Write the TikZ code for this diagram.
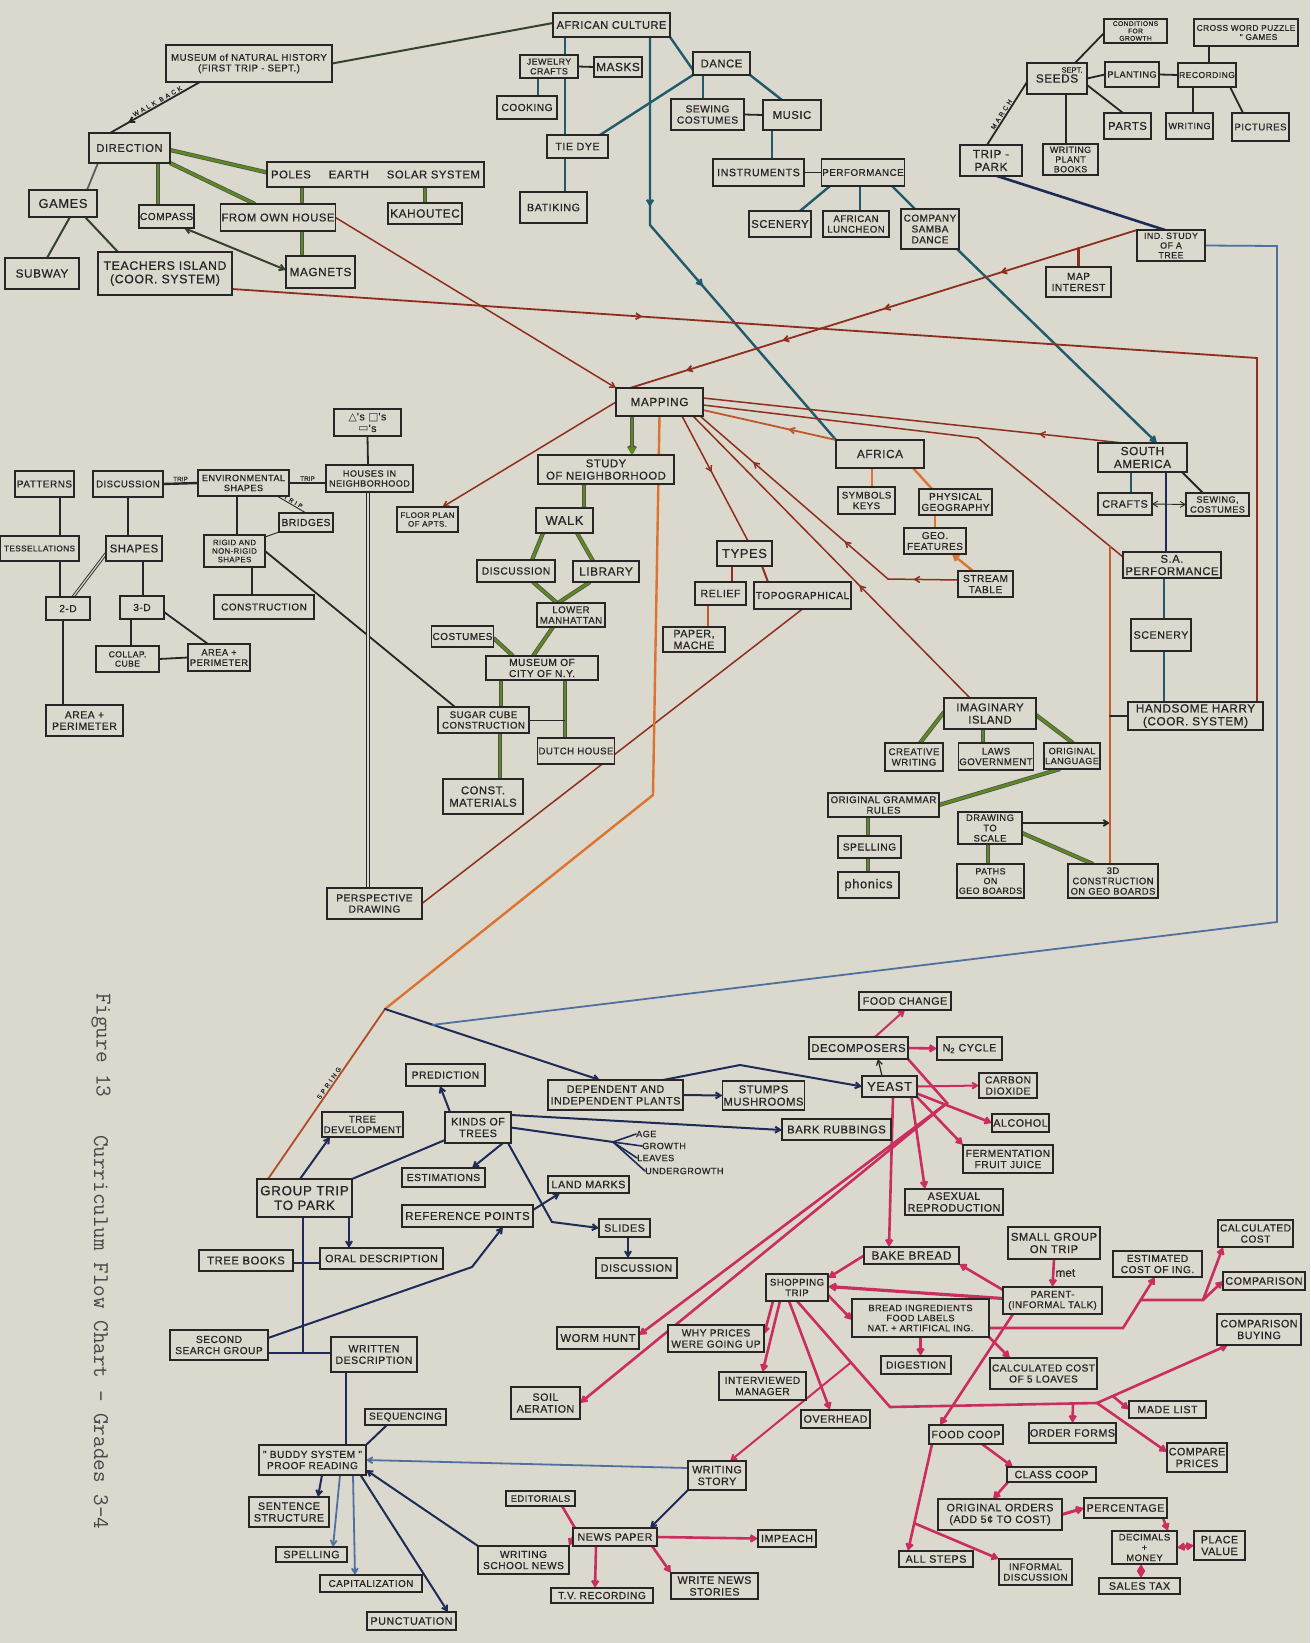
\documentclass[tikz,border=0pt]{standalone}
\usepackage{fontspec}
\usetikzlibrary{calc,arrows.meta,decorations.markings}
\newfontfamily\hand[LetterSpace=5,FakeBold=0.7]{Liberation Sans}
\newfontfamily\handn[FakeBold=0.5]{Liberation Sans}
\newfontfamily\handw[LetterSpace=40,FakeBold=0.5]{Liberation Sans}
\newfontfamily\symf{DejaVu Sans}
\newcommand\fs[1]{\fontsize{\fpeval{#1*1.07}}{\fpeval{#1*1.17}}\selectfont}
\definecolor{paper}{HTML}{DBD8CD}
\definecolor{ink}{HTML}{262626}
\definecolor{grn}{HTML}{5C8A20}
\definecolor{tlc}{HTML}{215A6C}
\definecolor{nvc}{HTML}{1E2B58}
\definecolor{rdc}{HTML}{8E2E1E}
\definecolor{ogc}{HTML}{DB7430}
\definecolor{mgc}{HTML}{C92E5E}
\definecolor{blc}{HTML}{50709F}
\definecolor{dgc}{HTML}{33442C}
\pgfdeclarelayer{back}
\pgfdeclarelayer{lines}
\pgfsetlayers{back,lines,main}
\tikzset{
 box/.style={draw=ink,line width=1.4pt,fill=paper,inner sep=1pt,outer sep=0pt,align=center,text=ink},
 thickbox/.style={line width=2.4pt},
 lbl/.style={text=ink,inner sep=1pt,font=\handn\fs{6.5}},
 dk/.style={color=ink,line width=1.8pt,line cap=round},
 dkg/.style={color=dgc,line width=2pt,line cap=round},
 gr/.style={color=grn,line width=2.6pt,preaction={draw=ink!80,line width=4.2pt}},
 tl/.style={color=tlc,line width=2.4pt,line cap=round},
 nv/.style={color=nvc,line width=2pt,line cap=round},
 rd/.style={color=rdc,line width=1.5pt,line cap=round},
 og/.style={color=ogc,line width=2.4pt,line cap=round},
 mg/.style={color=mgc,line width=2.6pt,line cap=round},
 bl/.style={color=blc,line width=1.8pt,line cap=round},
 thn/.style={color=ink,line width=0.9pt},
 amid/.style={postaction={decorate,decoration={markings,mark=at position #1 with {\arrow{Straight Barb[length=5pt,width=6pt]}}}}},
 ramid/.style={postaction={decorate,decoration={markings,mark=at position #1 with {\arrowreversed{Straight Barb[length=5pt,width=6pt]}}}}},
}
\newcommand{\BX}[8][]{\node[box,#1,minimum width={#5-#3},minimum height={#6-#4},font=\hand\fs{#7}] (#2) at ({(#3+#5)/2},{(#4+#6)/2}) {#8};}
\begin{document}
\begin{tikzpicture}[x=1pt,y=-1pt,>={Straight Barb[length=5pt,width=6pt]}]
\useasboundingbox (0,0) rectangle (1310,1643);
\begin{pgfonlayer}{back}
\fill[paper] (0,0) rectangle (1310,1643);
\end{pgfonlayer}

% ---------- caption
\node[rotate=-90,anchor=west,inner sep=0pt,text=ink!85,font=\ttfamily\fontsize{22.5}{24}\selectfont] (figcap) at (101,993) {Figure 13};
\node[rotate=-90,anchor=west,inner sep=0pt,text=ink!85,font=\ttfamily\fontsize{22.5}{24}\selectfont] (titcap) at (101,1135) {Curriculum Flow Chart - Grades 3-4};

% ---------- top left
\BX{museum}{166}{45}{332}{82}{9}{MUSEUM of NATURAL HISTORY\\(FIRST TRIP - SEPT.)}
\BX{direction}{89}{133}{170}{163}{10.5}{DIRECTION}
\BX{games}{29}{190}{97}{217}{12}{GAMES}
\BX{compass}{139}{205}{194}{228}{9.5}{COMPASS}
\BX{ownhouse}{222}{204}{334}{231}{10.5}{FROM OWN HOUSE}
\BX{poles}{267}{162}{484}{187}{10.5}{POLES\hspace{1.6em}EARTH\hspace{1.6em}SOLAR SYSTEM}
\BX{kahoutec}{388}{203}{462}{224}{11}{KAHOUTEC}
\BX{subway}{5}{258}{79}{289}{11}{SUBWAY}
\BX{teachers}{98}{252}{232}{295}{11.5}{TEACHERS ISLAND\\(COOR. SYSTEM)}
\BX{magnets}{286}{256}{355}{288}{11}{MAGNETS}

% ---------- african culture
\BX{afcult}{553}{13}{670}{37}{10.3}{AFRICAN CULTURE}
\BX{jewelry}{520}{55}{578}{78}{8.3}{JEWELRY\\CRAFTS}
\BX{masks}{594}{57}{642}{77}{11}{MASKS}
\BX{cooking}{497}{96}{557}{119}{9.5}{COOKING}
\BX{tiedye}{547}{135}{608}{158}{10}{TIE DYE}
\BX{batiking}{520}{192}{587}{223}{10}{BATIKING}
\BX{dance}{693}{52}{750}{75}{10.5}{DANCE}
\BX{sewing}{671}{99}{744}{130}{9.5}{SEWING\\COSTUMES}
\BX{music}{763}{100}{821}{130}{10.5}{MUSIC}
\BX{instruments}{713}{159}{804}{186}{10}{INSTRUMENTS}
\BX{performance}{823}{159}{903}{186}{9.2}{PERFORMANCE}
\BX{scenery}{749}{211}{811}{237}{10.5}{SCENERY}
\BX{luncheon}{823}{211}{889}{237}{9}{AFRICAN\\LUNCHEON}
\BX{samba}{901}{209}{959}{249}{9.3}{COMPANY\\SAMBA\\DANCE}

% ---------- top right
\BX{conditions}{1104}{19}{1167}{43}{6.3}{CONDITIONS\\FOR\\GROWTH}
\BX{crossword}{1194}{19}{1298}{46}{7.8}{CROSS WORD PUZZLE\\\hspace*{3em}" GAMES}
\BX{seeds}{1027}{63}{1087}{94}{11}{\raisebox{-4pt}{SEEDS}}
\node[lbl,font=\handn\fs{7}] (septlbl) at (1072,70) {SEPT.};
\BX{planting}{1105}{62}{1159}{87}{8.6}{PLANTING}
\BX{recording}{1178}{63}{1236}{87}{8}{RECORDING}
\BX{parts}{1104}{113}{1151}{139}{10.5}{PARTS}
\BX{writing}{1166}{113}{1213}{139}{8.5}{WRITING}
\BX{pictures}{1232}{113}{1289}{141}{9}{PICTURES}
\BX{trippark}{960}{145}{1022}{176}{11}{TRIP -\\PARK}
\BX{plantbooks}{1043}{144}{1098}{175}{8.3}{WRITING\\PLANT\\BOOKS}
\BX{indstudy}{1137}{230}{1205}{261}{8.3}{IND. STUDY\\OF A\\TREE}
\BX{mapint}{1046}{267}{1111}{297}{9.5}{MAP\\INTEREST}

% ---------- left middle
\BX{shapesbox}{334}{409}{401}{436}{10}{{\symf △}'s {\symf □}'s\\{\symf ▭}'s}
\BX{patterns}{15}{471}{74}{497}{9.3}{PATTERNS}
\BX{discleft}{93}{471}{163}{497}{8.9}{DISCUSSION}
\BX{envshapes}{198}{470}{289}{496}{8.5}{ENVIRONMENTAL\\SHAPES}
\BX{houses}{326}{465}{413}{492}{8.5}{HOUSES IN\\NEIGHBORHOOD}
\BX{tess}{0}{536}{79}{561}{7.7}{TESSELLATIONS}
\BX{shapes}{106}{536}{162}{561}{10.5}{SHAPES}
\BX{rigid}{204}{535}{265}{567}{7.3}{RIGID AND\\NON-RIGID\\SHAPES}
\BX{bridges}{279}{513}{333}{532}{9.5}{BRIDGES}
\BX{twod}{46}{597}{90}{620}{9.5}{2-D}
\BX{threed}{120}{596}{164}{619}{9.5}{3-D}
\BX{construction}{214}{595}{314}{619}{9.3}{CONSTRUCTION}
\BX{collap}{96}{646}{159}{672}{8}{COLLAP.\\CUBE}
\BX{areaR}{188}{644}{250}{671}{8.7}{AREA +\\PERIMETER}
\BX{areaB}{46}{705}{123}{736}{9.7}{AREA +\\PERIMETER}
\BX{floorplan}{397}{507}{458}{532}{7.5}{FLOOR PLAN\\OF APTS.}
\BX{perspective}{327}{888}{422}{919}{9.5}{PERSPECTIVE\\DRAWING}

% ---------- middle
\BX[thickbox]{mapping}{616}{388}{703}{416}{11}{MAPPING}
\BX{study}{538}{455}{674}{484}{10.5}{STUDY\\OF NEIGHBORHOOD}
\BX{walk}{536}{508}{593}{533}{12}{WALK}
\BX{discmid}{477}{560}{555}{582}{9.6}{DISCUSSION}
\BX{library}{573}{561}{639}{582}{11}{LIBRARY}
\BX{lowerman}{537}{603}{605}{627}{9}{LOWER\\MANHATTAN}
\BX{costumes}{433}{626}{492}{647}{9.3}{COSTUMES}
\BX{museumny}{486}{656}{598}{680}{9.5}{MUSEUM OF\\CITY OF N.Y.}
\BX{sugar}{438}{707}{529}{733}{9}{SUGAR CUBE\\CONSTRUCTION}
\BX{dutch}{539}{738}{613}{764}{9}{DUTCH HOUSE}
\BX{constmat}{443}{779}{523}{814}{10.5}{CONST.\\MATERIALS}
\BX{types}{717}{541}{772}{566}{12}{TYPES}
\BX{relief}{695}{582}{746}{605}{10}{RELIEF}
\BX{topo}{754}{582}{851}{609}{9.5}{TOPOGRAPHICAL}
\BX{papermache}{663}{627}{725}{652}{10}{PAPER,\\MACHE}

% ---------- right middle
\BX{africa}{836}{440}{924}{468}{11}{AFRICA}
\BX{symbols}{838}{487}{895}{514}{9}{SYMBOLS\\KEYS}
\BX{physgeo}{919}{489}{992}{515}{9.3}{PHYSICAL\\GEOGRAPHY}
\BX{geofeat}{904}{528}{966}{554}{9.3}{GEO.\\FEATURES}
\BX{stream}{958}{571}{1013}{597}{9.5}{STREAM\\TABLE}
\BX{southam}{1098}{443}{1187}{472}{11}{SOUTH\\AMERICA}
\BX{crafts}{1098}{493}{1152}{515}{10}{CRAFTS}
\BX{sewingsa}{1186}{493}{1249}{516}{8.5}{SEWING,\\COSTUMES}
\BX{saperf}{1123}{552}{1221}{578}{10.5}{S.A.\\PERFORMANCE}
\BX{scenerysa}{1131}{619}{1191}{651}{10}{SCENERY}
\BX{harry}{1128}{702}{1263}{730}{11}{HANDSOME HARRY\\(COOR. SYSTEM)}
\BX{island}{944}{698}{1036}{729}{10.5}{IMAGINARY\\ISLAND}
\BX{creative}{885}{743}{943}{771}{9}{CREATIVE\\WRITING}
\BX{laws}{959}{743}{1033}{770}{9}{LAWS\\GOVERNMENT}
\BX{origlang}{1044}{743}{1100}{769}{8.5}{ORIGINAL\\LANGUAGE}
\BX{grammar}{828}{793}{939}{817}{9}{ORIGINAL GRAMMAR\\RULES}
\BX{drawing}{958}{812}{1022}{844}{8.8}{DRAWING\\TO\\SCALE}
\BX{spellmid}{838}{836}{901}{858}{9.5}{SPELLING}
\BX{phonics}{838}{872}{899}{898}{12}{phonics}
\BX{paths}{957}{864}{1024}{898}{8.3}{PATHS\\ON\\GEO BOARDS}
\BX{threedc}{1068}{864}{1158}{898}{8.8}{3D\\CONSTRUCTION\\ON GEO BOARDS}

% ---------- bottom
\BX{treedev}{322}{1112}{403}{1137}{9}{TREE\\DEVELOPMENT}
\BX{prediction}{406}{1064}{485}{1086}{9.5}{PREDICTION}
\BX[thickbox]{grouptrip}{257}{1179}{352}{1217}{12.5}{GROUP TRIP\\TO PARK}
\BX{kinds}{445}{1112}{511}{1143}{10}{KINDS OF\\TREES}
\BX{estimations}{402}{1168}{485}{1187}{9.5}{ESTIMATIONS}
\BX{refpoints}{402}{1205}{533}{1227}{10.7}{REFERENCE POINTS}
\BX{landmarks}{548}{1176}{629}{1193}{10}{LAND MARKS}
\BX{slides}{599}{1219}{650}{1237}{10}{SLIDES}
\BX{discbot}{596}{1258}{677}{1278}{10}{DISCUSSION}
\BX{dependent}{548}{1080}{683}{1110}{10}{DEPENDENT AND\\INDEPENDENT PLANTS}
\BX{stumps}{723}{1081}{804}{1110}{10.5}{STUMPS\\MUSHROOMS}
\BX{bark}{782}{1119}{891}{1140}{10.5}{BARK RUBBINGS}
\node[lbl,inner sep=0pt,anchor=west,font=\hand\fs{8.5}] (age) at (636,1134) {AGE};
\node[lbl,inner sep=0pt,anchor=west,font=\hand\fs{8.5}] (growth) at (642,1146) {GROWTH};
\node[lbl,inner sep=0pt,anchor=west,font=\hand\fs{8.5}] (leaves) at (637,1158) {LEAVES};
\node[lbl,inner sep=0pt,anchor=west,font=\hand\fs{8.5}] (undergrowth) at (645,1171) {UNDERGROWTH};
\BX{foodchange}{859}{992}{951}{1010}{10}{FOOD CHANGE}
\BX{decomposers}{809}{1037}{908}{1059}{10.5}{DECOMPOSERS}
\BX{ntwo}{937}{1037}{1002}{1060}{10}{N\textsubscript{2} CYCLE}
\BX{yeast}{862}{1076}{917}{1097}{12}{YEAST}
\BX{carbon}{979}{1073}{1037}{1098}{9.5}{CARBON\\DIOXIDE}
\BX{alcohol}{992}{1114}{1049}{1132}{10}{ALCOHOL}
\BX{ferment}{963}{1145}{1053}{1173}{9.5}{FERMENTATION\\FRUIT JUICE}
\BX{asexual}{905}{1189}{1003}{1215}{10}{ASEXUAL\\REPRODUCTION}
\BX{bake}{864}{1247}{959}{1264}{11}{BAKE BREAD}
\BX[thickbox]{smallgroup}{1008}{1227}{1100}{1259}{10.5}{SMALL GROUP\\ON TRIP}
\BX{parent}{1003}{1287}{1102}{1314}{9}{PARENT-\\(INFORMAL TALK)}
\BX{ingredients}{852}{1299}{989}{1337}{8.6}{BREAD INGREDIENTS\\FOOD LABELS\\NAT. + ARTIFICAL ING.}
\BX{estcost}{1113}{1251}{1202}{1277}{9.5}{ESTIMATED\\COST OF ING.}
\BX{calccost}{1218}{1220}{1293}{1247}{9.5}{CALCULATED\\COST}
\BX{comparison}{1223}{1272}{1305}{1290}{10}{COMPARISON}
\BX{compbuying}{1217}{1314}{1301}{1345}{10}{COMPARISON\\BUYING}
\BX{shopping}{766}{1274}{828}{1301}{9}{SHOPPING\\TRIP}
\BX{worm}{557}{1327}{639}{1349}{10.5}{WORM HUNT}
\BX{whyprices}{668}{1325}{764}{1352}{9.5}{WHY PRICES\\WERE GOING UP}
\BX{soil}{511}{1387}{580}{1419}{10}{SOIL\\AERATION}
\BX{interviewed}{719}{1372}{806}{1400}{9.5}{INTERVIEWED\\MANAGER}
\BX{overhead}{801}{1410}{870}{1428}{10}{OVERHEAD}
\BX{digestion}{881}{1356}{951}{1374}{9.5}{DIGESTION}
\BX{calcfive}{990}{1358}{1097}{1389}{9.4}{CALCULATED COST\\OF 5 LOAVES}
\BX{madelist}{1129}{1401}{1206}{1418}{10}{MADE LIST}
\BX{foodcoop}{929}{1425}{1003}{1444}{10}{FOOD COOP}
\BX{orderforms}{1029}{1423}{1116}{1443}{10}{ORDER FORMS}
\BX{compprices}{1167}{1443}{1227}{1472}{10}{COMPARE\\PRICES}
\BX{classcoop}{1007}{1467}{1096}{1482}{10}{CLASS COOP}
\BX{origorders}{938}{1499}{1062}{1530}{10}{ORIGINAL ORDERS\\(ADD 5¢ TO COST)}
\BX{percentage}{1084}{1498}{1167}{1518}{10}{PERCENTAGE}
\BX{decimals}{1112}{1531}{1177}{1564}{8.8}{DECIMALS\\+\\MONEY}
\BX{placevalue}{1194}{1531}{1245}{1560}{10}{PLACE\\VALUE}
\BX{salestax}{1099}{1578}{1180}{1594}{10}{SALES TAX}
\BX{allsteps}{899}{1551}{973}{1567}{10}{ALL STEPS}
\BX{informal}{999}{1559}{1072}{1585}{9}{INFORMAL\\DISCUSSION}
\BX{writingstory}{688}{1461}{746}{1490}{10}{WRITING\\STORY}
\BX{newspaper}{573}{1528}{657}{1546}{10}{NEWS PAPER}
\BX{impeach}{758}{1530}{816}{1547}{10}{IMPEACH}
\BX{writenews}{671}{1573}{758}{1599}{10}{WRITE NEWS\\STORIES}
\BX{tvrec}{551}{1588}{653}{1603}{9.5}{T.V. RECORDING}
\BX{editorials}{506}{1491}{575}{1506}{8.7}{EDITORIALS}
\BX{schoolnews}{478}{1546}{569}{1574}{9.5}{WRITING\\SCHOOL NEWS}
\BX{treebooks}{199}{1250}{293}{1271}{10.5}{TREE BOOKS}
\BX{oraldesc}{320}{1248}{443}{1269}{10}{ORAL DESCRIPTION}
\BX{secondsearch}{170}{1330}{268}{1360}{9.5}{SECOND\\SEARCH GROUP}
\BX{writtendesc}{331}{1337}{417}{1372}{9.8}{WRITTEN\\DESCRIPTION}
\BX{sequencing}{365}{1409}{446}{1425}{9.5}{SEQUENCING}
\BX{buddy}{259}{1445}{366}{1475}{9.5}{" BUDDY SYSTEM "\\PROOF READING}
\BX{sentence}{249}{1497}{329}{1527}{10}{SENTENCE\\STRUCTURE}
\BX{spellbot}{276}{1547}{347}{1562}{10}{SPELLING}
\BX{capital}{320}{1575}{422}{1592}{9.2}{CAPITALIZATION}
\BX{punctuation}{367}{1612}{456}{1630}{10}{PUNCTUATION}

% ================= connectors
\begin{pgfonlayer}{lines}
\coordinate (acb) at (650,225);
\coordinate (tc1) at (1257,358);
\coordinate (sab) at (978,438);
\coordinate (strb) at (888,579);
\coordinate (ob1) at (653,795);
\coordinate (junc) at (385,1009);
\coordinate (bf1) at (1277,246);
\coordinate (bf2) at (1277,922);
\coordinate (gbus) at (303,1353);
\coordinate (rp1) at (472,1267);
\coordinate (sl1) at (552,1222);
\coordinate (fan) at (613,1142);
\coordinate (dp1) at (740,1065);
\coordinate (wbend) at (947,1103);
\coordinate (ec1) at (1123,1328);
\coordinate (ec3) at (1203,1300);
\coordinate (bl1) at (890,1407);
\coordinate (bl2) at (1097,1403);
\coordinate (saperfw) at ($(saperf.west)+(0,-8)$);
\coordinate (busTop) at ($(sab)!0.91!(saperfw)$);
\coordinate (dwe) at ($(drawing.east)+(0,-5)$);

% top left
\draw[dk,amid=0.8] ($(museum.south)+(-49,0)$) -- node[lbl,sloped,above,pos=0.45,font=\handw\fs{6}] (lblwalk) {WALK BACK} ($(direction.north)+(-19.5,0)$);
\draw[dkg] (museum.east) -- ($(afcult.west)+(0,-2)$);
\draw[dk,color=ink!75] ($(direction.south)+(-31.5,0)$) -- ($(games.north)+(24,0)$);
\draw[dkg] ($(games.south)+(7,0)$) -- ($(subway.north)+(5,0)$);
\draw[dkg] ($(games.south)+(22,0)$) -- ($(teachers.north)+(-47,0)$);
\draw[gr] ($(direction.south)+(28.5,0)$) -- ($(compass.north)+(-8.5,0)$);
\draw[gr] ($(direction.east)+(0,2)$) -- ($(poles.west)+(0,-2)$);
\draw[gr] (direction.south east) -- ($(ownhouse.north)+(-23,0)$);
\draw[gr] ($(poles.south)+(-73.5,0)$) -- ($(ownhouse.north)+(24,0)$);
\draw[gr] ($(poles.south)+(49.5,0)$) -- (kahoutec.north);
\draw[gr] ($(ownhouse.south)+(24,0)$) -- ($(magnets.north)+(-18.5,0)$);
\draw[dkg,<->] ($(compass.south east)+(-10,0)$) -- ($(magnets.west)+(0,-2)$);

% african culture
\draw[tl] ($(afcult.south)+(-46.5,0)$) -- ($(jewelry.north)+(16,0)$);
\draw[tl] ($(jewelry.south)+(16,0)$) -- ($(tiedye.north)+(-12.5,0)$);
\draw[tl] ($(tiedye.south)+(-12.5,0)$) -- ($(batiking.north)+(11.5,0)$);
\draw[dk] (jewelry.east) -- (masks.west);
\draw[tl] ($(jewelry.south)+(-11,0)$) -- ($(cooking.north)+(11,0)$);
\draw[tl] (afcult.south east) -- ($(dance.west)+(0,6.5)$);
\draw[tl] (dance.south west) -- ($(tiedye.north east)+(-8,0)$);
\draw[tl] ($(dance.south)+(-18.5,0)$) -- ($(sewing.north)+(-4.5,0)$);
\draw[tl] (dance.south east) -- ($(music.north)+(-10,0)$);
\draw[dk] (sewing.east) -- (music.west);
\draw[tl] ($(music.south)+(-20,0)$) -- ($(instruments.north)+(13.5,0)$);
\draw[dk] (instruments.east) -- (performance.west);
\draw[tl] ($(performance.south)+(-33,0)$) -- ($(scenery.north)+(20,0)$);
\draw[tl] ($(performance.south)+(-3,0)$) -- ($(luncheon.north)+(4,0)$);
\draw[tl] ($(performance.south)+(29,0)$) -- ($(samba.north)+(-15,0)$);
\draw[tl,->] ($(samba.south)+(27,0)$) -- ($(southam.north)+(14.5,0)$);
\draw[tl,amid=0.36,amid=0.57] ($(afcult.south)+(38.5,0)$) -- (acb) -- (africa.north west);

% top right
\draw[dk] ($(seeds.north east)+(-12,0)$) -- ($(conditions.south west)+(0,-10)$);
\draw[dk] (seeds.east) -- (planting.west);
\draw[dk] (planting.east) -- (recording.west);
\draw[dk] ($(recording.north)+(2,0)$) -- ($(crossword.south)+(-37,0)$);
\draw[dk] ($(recording.south)+(-14,0)$) -- ($(writing.north)+(3.5,0)$);
\draw[dk] ($(recording.south east)+(-6,0)$) -- ($(pictures.north)+(-17.5,0)$);
\draw[dk] ($(seeds.east)+(0,6.5)$) -- ($(parts.north)+(-4.5,0)$);
\draw[dk] ($(seeds.south)+(9,0)$) -- ($(plantbooks.north)+(-4.5,0)$);
\draw[dk] ($(seeds.west)+(0,3.5)$) -- node[lbl,sloped,above,pos=0.55,font=\handw\fs{6}] (lblmarch) {MARCH} ($(trippark.north)+(-4,0)$);
\draw[nv,line width=2.6pt] ($(trippark.south)+(6,0)$) -- ($(indstudy.north)+(-6,0)$);

% red lines to mapping
\draw[rd,line width=1.8pt,amid=0.27,amid=0.5,amid=0.7,amid=0.89] (indstudy.north west) -- coordinate[pos=0.115] (mi) ($(mapping.north)+(-29.5,0)$);
\draw[rd,line width=2.4pt] (mapint.north) -- (mapint.north |- mi);
\draw[rd,->] (ownhouse.east) -- (mapping.north west);
\draw[rd,line width=1.8pt,amid=0.3] ($(teachers.east)+(0,15.5)$) -- (tc1) -- ($(harry.north)+(61.5,0)$);
\draw[rd,ramid=0.8] ($(mapping.east)+(0,-4)$) -- ($(southam.north)+(-19.5,0)$);
\draw[rd] ($(mapping.east)+(0,3)$) -- (sab) -- (saperfw);
\draw[rd,color=ogc!60!rdc,line width=1.8pt,ramid=0.64] ($(mapping.east)+(0,8)$) -- (africa.north west);
\draw[rd,amid=0.14,amid=0.4,amid=0.78] ($(stream.west)+(0,-4)$) -- (strb) -- ($(mapping.south east)+(-3,0)$);
\draw[rd,ramid=0.6] ($(mapping.south east)+(-10,0)$) -- ($(island.north)+(-20,0)$);
\draw[rd,amid=0.45] ($(mapping.south)+(22.5,0)$) -- ($(types.north)+(3.5,0)$);
\draw[rd,->] (mapping.west) -- ($(floorplan.north)+(15,0)$);
\draw[rd] (topo.south) -- (perspective.east);
\draw[rd,line width=2pt] ($(types.south)+(-12.5,0)$) -- ($(relief.north)+(11.5,0)$);
\draw[rd,line width=2pt] ($(types.south)+(17.5,0)$) -- ($(topo.north)+(-34.5,0)$);
\draw[og,color=ogc!60!rdc,line width=2.2pt] ($(relief.south)+(-12.5,0)$) -- ($(papermache.north)+(14,0)$);

% orange spine and junction
\draw[og] (mapping.south) -- (ob1) -- (junc);
\draw[rd,color=ogc!45!rdc,line width=1.8pt] (junc) -- node[lbl,sloped,above,pos=0.45,font=\handw\fs{6}] (lblspring) {SPRING} ($(grouptrip.north)+(-36.5,0)$);
\draw[nv,->] (junc) -- coordinate[pos=0.223] (bfend) ($(dependent.north)+(-15.5,0)$);
\draw[bl] (bfend) -- (bf2) -- (bf1) -- (indstudy.east);

% left middle
\draw[dk] ($(patterns.south)+(15.5,0)$) -- ($(tess.north)+(20.5,0)$);
\draw[dk] ($(tess.south)+(20.5,0)$) -- ($(twod.north)+(-8,0)$);
\draw[dk] (discleft.south) -- ($(shapes.north)+(-6,0)$);
\draw[dk] ($(shapes.south)+(9,0)$) -- ($(threed.north)+(1,0)$);
\draw[dk,double=paper,double distance=1.2pt,line width=0.9pt] ($(shapes.west)+(0,5)$) -- ($(twod.north)+(5,0)$);
\draw[dk] ($(twod.south)+(-5,0)$) -- ($(areaB.north)+(-21.5,0)$);
\draw[dk] ($(threed.south)+(-11,0)$) -- ($(collap.north)+(3.5,0)$);
\draw[dk] ($(threed.east)+(0,4.5)$) -- ($(areaR.north)+(-11,0)$);
\draw[dk] (collap.east) -- (areaR.west);
\draw[dk,line width=2.4pt] (discleft.east) -- node[lbl,above,font=\handn\fs{6}] (lbltripa) {TRIP} (envshapes.west);
\draw[dk,line width=2.4pt] (envshapes.east) -- node[lbl,above,font=\handn\fs{6}] (lbltripb) {TRIP} ($(houses.west)+(0,4.5)$);
\draw[thn] ($(envshapes.south east)+(-12,0)$) -- node[lbl,sloped,above,font=\handw\fs{5.5}] (lbltripc) {TRIP} (bridges.north);
\draw[dk] ($(envshapes.south)+(-6.5,0)$) -- ($(rigid.north)+(2.5,0)$);
\draw[thn] ($(rigid.north east)+(0,2)$) -- (bridges.south west);
\draw[dk] ($(rigid.south)+(17.5,0)$) -- ($(construction.north)+(-12,0)$);
\draw[dk] (rigid.east) -- ($(sugar.north)+(-28.5,0)$);
\draw[dk] (shapesbox.south) -- ($(houses.north)+(-1.5,0)$);
\draw[dk,double=paper,double distance=1.4pt,line width=1pt] ($(houses.south)+(-1.5,0)$) -- ($(perspective.north)+(-6.5,0)$);

% middle green
\draw[gr,->] ($(mapping.south)+(-27.5,0)$) -- ($(study.north)+(26,0)$);
\draw[gr] ($(study.south)+(-22,0)$) -- ($(walk.north)+(19.5,0)$);
\draw[gr] ($(walk.south)+(-21.5,0)$) -- ($(discmid.north)+(16,0)$);
\draw[gr] ($(walk.south)+(12.5,0)$) -- ($(library.north)+(-13,0)$);
\draw[gr] ($(discmid.south)+(17,0)$) -- ($(lowerman.north)+(-14,0)$);
\draw[gr] ($(library.south)+(-16,0)$) -- ($(lowerman.north)+(-13,0)$);
\draw[gr] ($(lowerman.south)+(-18,0)$) -- ($(museumny.north)+(-9,0)$);
\draw[gr] ($(costumes.east)+(0,1.5)$) -- ($(museumny.north)+(-29,0)$);
\draw[gr] ($(museumny.south)+(-41,0)$) -- ($(sugar.north)+(17.5,0)$);
\draw[gr] ($(museumny.south)+(23,0)$) -- ($(dutch.north)+(-11,0)$);
\draw[thn] (sugar.east) -- ++(36,0);
\draw[gr] ($(sugar.south)+(16.5,0)$) -- ($(constmat.north)+(17,0)$);

% right middle
\draw[og] ($(africa.south)+(-8,0)$) -- ($(symbols.north)+(5.5,0)$);
\draw[og] ($(africa.south)+(33,0)$) -- ($(physgeo.north)+(-23.5,0)$);
\draw[og] ($(physgeo.south)+(-20.5,0)$) -- (geofeat.north);
\draw[og,->] ($(stream.north)+(-12.5,0)$) -- ($(geofeat.south)+(17,0)$);
\draw[tl] ($(southam.south)+(-11.5,0)$) -- ($(crafts.north)+(6,0)$);
\draw[nv,line width=2.6pt] ($(southam.south)+(23.5,0)$) -- ($(saperf.north)+(-6,0)$);
\draw[dk] ($(southam.south east)+(-5,0)$) -- ($(sewingsa.north)+(-14.5,0)$);
\draw[thn,<->] (crafts.east) -- (sewingsa.west);
\draw[tl] ($(saperf.south)+(-8,0)$) -- ($(scenerysa.north)+(3,0)$);
\draw[tl] ($(scenerysa.south)+(3,0)$) -- ($(harry.north)+(-31.5,0)$);
\draw[gr] ($(island.west)+(0,-1.5)$) -- ($(creative.north)+(6,0)$);
\draw[gr] ($(island.south)+(-7,0)$) -- ($(laws.north)+(-13,0)$);
\draw[gr] ($(island.east)+(0,1.5)$) -- ($(origlang.north)+(1,0)$);
\draw[gr] ($(origlang.south)+(-12,0)$) -- (grammar.east);
\draw[gr] ($(grammar.south)+(-15.5,0)$) -- ($(spellmid.north)+(-1.5,0)$);
\draw[gr] ($(spellmid.south)+(-1.5,0)$) -- ($(phonics.north)+(-0.5,0)$);
\draw[gr] ($(drawing.south)+(-2,0)$) -- ($(paths.north)+(-2.5,0)$);
\draw[gr] ($(drawing.east)+(0,5)$) -- ($(threedc.north)+(-20,0)$);
\draw[dk,->] (dwe) -- (dwe -| busTop);
\draw[og,color=ogc!70!rdc,line width=2pt] (threedc.north -| busTop) -- (busTop);
\draw[dk] (harry.west) -- (harry.west -| busTop);

% bottom left navy
\draw[nv,->] ($(grouptrip.north)+(-4.5,0)$) -- ($(treedev.south)+(-32.5,0)$);
\draw[nv] (grouptrip.north east) -- ($(kinds.west)+(0,12.5)$);
\draw[nv,->] ($(grouptrip.south)+(44.5,0)$) -- ($(oraldesc.north)+(-32.5,0)$);
\draw[nv,line width=2.4pt] ($(grouptrip.south)+(-1.5,0)$) -- (gbus);
\draw[nv] ($(treebooks.east)+(0,2.5)$) -- ($(oraldesc.west)+(0,4.5)$);
\draw[nv] ($(secondsearch.east)+(0,8)$) -- ($(writtendesc.west)+(0,-1.5)$);
\draw[nv,->] ($(secondsearch.east)+(0,-7)$) -- (rp1) -- ($(refpoints.south)+(35.5,0)$);
\draw[nv,line width=2.4pt] ($(writtendesc.south)+(-28,0)$) -- ($(buddy.north)+(33.5,0)$);
\draw[nv] ($(sequencing.south)+(-18.5,0)$) -- (buddy.north east);
\draw[nv,->] ($(buddy.south)+(9.5,0)$) -- ($(sentence.north)+(29,0)$);
\draw[bl,->] ($(buddy.south)+(27.5,0)$) -- ($(spellbot.north)+(21.5,0)$);
\draw[bl,->] ($(buddy.south)+(40.5,0)$) -- ($(capital.north)+(-16,0)$);
\draw[nv,->] ($(buddy.south)+(48,0)$) -- ($(punctuation.north)+(36.5,0)$);
\draw[nv,->] (schoolnews.north west) -- ($(buddy.east)+(0,10)$);
\draw[bl,->] ($(writingstory.west)+(0,-7.5)$) -- (buddy.east);
\draw[nv,->] (writingstory.south west) -- ($(newspaper.north east)+(-7,0)$);

% kinds of trees
\draw[nv,->] ($(kinds.north)+(-28,0)$) -- ($(prediction.south)+(-5.5,0)$);
\draw[nv,->] ($(kinds.south)+(25,0)$) -- ($(estimations.north)+(28.5,0)$);
\draw[nv,->] ($(kinds.east)+(0,-12.5)$) -- ($(bark.west)+(0,0.5)$);
\draw[nv,->] ($(kinds.south)+(30,0)$) -- (sl1) -- (slides.west);
\draw[nv,->] ($(slides.south)+(3.5,0)$) -- ($(discbot.north)+(-8.5,0)$);
\draw[nv,->] ($(refpoints.east)+(0,-6)$) -- ($(landmarks.south)+(-28.5,0)$);
\draw[nv] (kinds.east) -- (fan);
\draw[nv,line width=1.6pt] (fan) -- (age.west);
\draw[nv,line width=1.6pt] (fan) -- (growth.west);
\draw[nv,line width=1.6pt] (fan) -- (leaves.west);
\draw[nv,line width=1.6pt] (fan) -- (undergrowth.west);
\draw[nv,->] (dependent.east) -- (stumps.west);
\draw[nv,->] ($(dependent.north)+(47.5,0)$) -- (dp1) -- (yeast.west);

% magenta
\draw[thn,line width=1.2pt,->] ($(yeast.north)+(-7.5,0)$) -- ($(decomposers.south)+(19.5,0)$);
\draw[mg,line width=2pt,->] ($(decomposers.north)+(16.5,0)$) -- (foodchange.south);
\draw[mg,->] (decomposers.east) -- (ntwo.west);
\draw[mg,line width=2pt,->] (yeast.east) -- (carbon.west);
\draw[mg,->] ($(yeast.east)+(0,7)$) -- (alcohol.west);
\draw[mg,->] (yeast.south east) -- (ferment.north west);
\draw[mg,->] ($(yeast.south)+(22,0)$) -- ($(asexual.north)+(-29,0)$);
\draw[mg,->] ($(yeast.south)+(3.5,0)$) -- ($(bake.north)+(-22.5,0)$);
\draw[mg,->] (decomposers.south east) -- (wbend) -- ($(worm.east)+(0,-3)$);
\draw[mg,->] (wbend) -- (soil.east);
\draw[mg,->] (bake.west) -- ($(shopping.north east)+(0,4)$);
\draw[mg,line width=3.2pt,->] ($(parent.west)+(0,-2)$) -- ($(shopping.east)+(0,-1)$);
\draw[mg,->] ($(parent.north west)+(0,3)$) -- (bake.south east);
\draw[mg,->] ($(shopping.east)+(0,7.5)$) -- ($(ingredients.west)+(0,2)$);
\draw[mg,->] (smallgroup.south) -- node[lbl,right,font=\handn\fs{11}] (lblmet) {met} (parent.north);
\draw[mg,->] (ingredients.south) -- ($(digestion.north)+(4.5,0)$);
\draw[mg,->] ($(ingredients.east)+(0,10)$) -- (ec1) -- coordinate[pos=0.55] (ec2) ($(estcost.south)+(-2.5,0)$);
\draw[mg,->] (ec2) -- (ec3) -- ($(calccost.south)+(-32.5,0)$);
\draw[mg,->] (ec3) -- (comparison.west);
\draw[mg,->] (ingredients.south east) -- ($(calcfive.north)+(-33.5,0)$);
\draw[mg,->] ($(parent.south)+(-39.5,0)$) -- ($(foodcoop.north)+(-26,0)$);
\draw[mg,->] ($(shopping.south)+(-17,0)$) -- (interviewed.north);
\draw[mg,->] ($(shopping.south)+(-8,0)$) -- ($(overhead.north)+(-5.5,0)$);
\draw[mg,->] ($(shopping.south)+(-24,0)$) -- ($(whyprices.east)+(0,-4)$);
\draw[mg] (shopping.south) -- coordinate[pos=0.58] (ws1) (bl1) -- coordinate[pos=0.884] (of1) (bl2);
\draw[mg,->] (bl2) -- coordinate[pos=0.12] (ml1) ($(compbuying.south)+(-31,0)$);
\draw[mg,->] (ml1) -- (madelist.west);
\draw[mg,->] (of1) -- (orderforms.north);
\draw[mg,->] (bl2) -- ($(compprices.west)+(0,-5.5)$);
\draw[mg,line width=2pt,->] (ws1) -- ($(writingstory.north)+(13,0)$);
\draw[mg,->] ($(foodcoop.south)+(16,0)$) -- ($(classcoop.north)+(-38.5,0)$);
\draw[mg,->] ($(classcoop.south)+(-43.5,0)$) -- ($(origorders.north)+(-7,0)$);
\draw[mg,line width=3pt,->] (origorders.east) -- (percentage.west);
\draw[mg,->] ($(percentage.south)+(37.5,0)$) -- ($(decimals.north)+(23.5,0)$);
\draw[mg,<->] (decimals.east) -- (placevalue.west);
\draw[mg,<->] ($(decimals.south)+(-3.5,0)$) -- ($(salestax.north)+(1.5,0)$);
\draw[mg,->] ($(foodcoop.south)+(-34,0)$) -- coordinate[pos=0.74] (inf1) ($(allsteps.north)+(-28,0)$);
\draw[mg,->] (inf1) -- (informal.north west);
\draw[mg,->] (newspaper.east) -- (impeach.west);
\draw[mg,->] ($(newspaper.south east)+(-5,0)$) -- (writenews.north west);
\draw[mg,->] ($(newspaper.south)+(-19,0)$) -- ($(tvrec.north)+(-7,0)$);
\draw[mg] ($(editorials.south)+(21.5,0)$) -- ($(newspaper.north)+(-40,0)$);
\draw[mg,->] (newspaper.west) -- (schoolnews.north east);
\end{pgfonlayer}
\end{tikzpicture}
\end{document}
